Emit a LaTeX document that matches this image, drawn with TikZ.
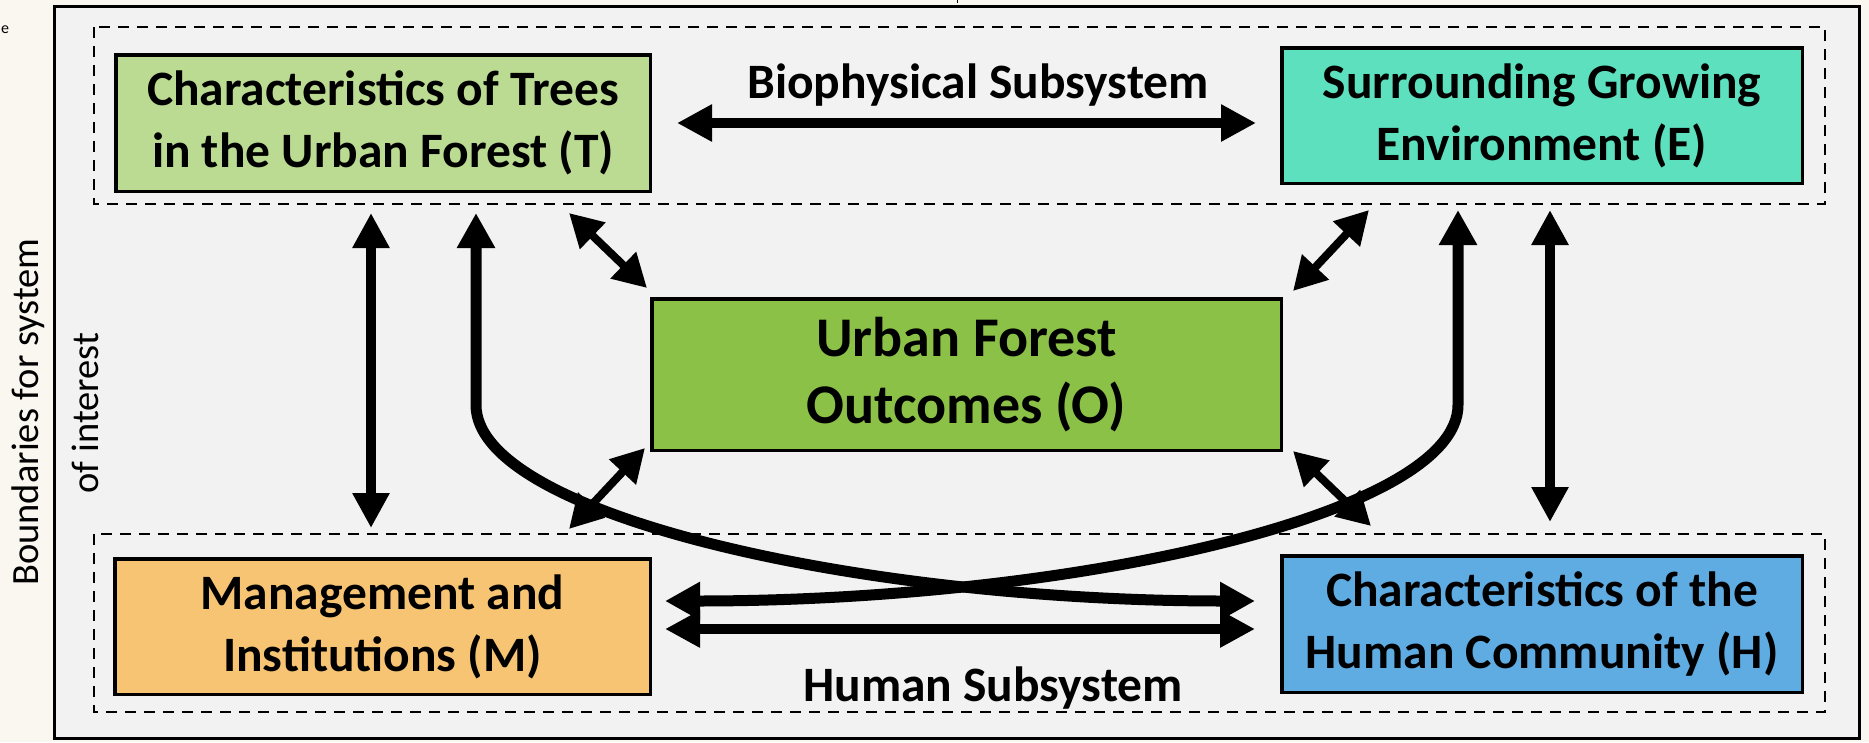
\documentclass[tikz,border=0pt]{standalone}
\usepackage{fontspec}
\setmainfont{Carlito}
\usetikzlibrary{arrows.meta}
\definecolor{paper}{RGB}{250,246,240}
\definecolor{panel}{RGB}{242,242,242}
\definecolor{treeg}{RGB}{187,219,146}
\definecolor{envg}{RGB}{92,224,190}
\definecolor{outg}{RGB}{140,193,71}
\definecolor{mgmt}{RGB}{247,196,116}
\definecolor{human}{RGB}{95,172,227}
\tikzset{
  box/.style={draw=black, line width=3.5pt, inner sep=0pt, align=center,
    font=\fontsize{49.5}{62}\selectfont\bfseries},
  subsys/.style={draw=black, line width=2.5pt, dash pattern=on 11pt off 8pt},
  sublabel/.style={anchor=base, inner sep=0pt, font=\fontsize{49.5}{60}\selectfont\bfseries},
  sidelabel/.style={anchor=base, rotate=90, inner sep=0pt, font=\fontsize{38.5}{46}\selectfont},
  bigarrow/.style={line width=10pt,
    {Triangle[length=35pt,width=35pt]}-{Triangle[length=35pt,width=35pt]}},
  curvearrow/.style={line width=11pt,
    {Triangle[length=35pt,width=36pt]}-{Triangle[length=35pt,width=36pt]}},
  diagarrow/.style={line width=8pt,
    {Triangle[length=33pt,width=35pt]}-{Triangle[length=33pt,width=35pt]}}
}
\begin{document}
\begin{tikzpicture}[x=1pt,y=-1pt]
\useasboundingbox (0,0) rectangle (1869,742);
\fill[paper] (0,0) rectangle (1869,742);

% clipped word fragment and small tick above the frame
\node[anchor=base west, inner sep=0pt, font=\fontsize{16}{18}\selectfont] (frag) at (1,33) {e};
\draw[line width=1pt] (957,0) -- (957,3);

% system boundary
\draw[line width=3pt, fill=panel] (54.5,6.5) rectangle (1859.5,738.5);
\node[sidelabel] (bnd1) at (38,412) {Boundaries for system};
\node[sidelabel] (bnd2) at (98,413) {of interest};

% subsystem boundaries
\draw[subsys] (94,27) rectangle (1825,204);
\draw[subsys] (94,534) rectangle (1825,712);
\node[sublabel] (bio) at (978,98) {Biophysical Subsystem};
\node[sublabel] (hum) at (993,701) {Human Subsystem};

% components
\node[box, fill=treeg, minimum width=534.5pt, minimum height=136.5pt] (T) at (383,123)
  {Characteristics of Trees\\in the Urban Forest (T)};
\node[box, fill=envg, minimum width=520.5pt, minimum height=135.5pt] (E) at (1542,115.5)
  {Surrounding Growing\\Environment (E)};
\node[box, fill=outg, minimum width=629.5pt, minimum height=151.5pt,
  font=\fontsize{56}{67}\selectfont\bfseries] (O) at (966.5,374.5)
  {Urban Forest\\Outcomes (O)};
\node[box, fill=mgmt, minimum width=535.5pt, minimum height=135.5pt] (M) at (382.5,626.5)
  {Management and\\Institutions (M)};
\node[box, fill=human, minimum width=520.5pt, minimum height=136.5pt] (H) at (1542,624)
  {Characteristics of the\\Human Community (H)};

% straight interactions
\draw[bigarrow] ([xshift=25pt, yshift=0pt]T.east) -- ([xshift=-24pt]T.east -| E.west);
\draw[bigarrow] ([xshift=-12pt, yshift=-20pt]T.south) -- ([xshift=-11.5pt, yshift=29pt]M.north);
\draw[bigarrow] ([xshift=8pt, yshift=-25pt]E.south) -- ([xshift=8pt, yshift=32pt]H.north);
\draw[bigarrow] ([xshift=13pt, yshift=-2.5pt]M.east) -- ([xshift=-25pt, yshift=-5pt]H.west);

% links with the outcomes
\draw[diagarrow] ([xshift=186pt, yshift=-20pt]T.south) -- ([xshift=-3pt, yshift=9pt]O.north west);
\draw[diagarrow] ([xshift=-173pt, yshift=-25pt]E.south) -- ([xshift=10pt, yshift=6pt]O.north east);
\draw[diagarrow] ([xshift=186.5pt, yshift=28pt]M.north) -- ([xshift=-5pt, yshift=4pt]O.south west);
\draw[diagarrow] ([xshift=-171pt, yshift=28pt]H.north) -- ([xshift=10pt, yshift=1pt]O.south east);

% crossing links between the subsystems
\draw[curvearrow] ([xshift=93pt, yshift=-20pt]T.south) -- (476,405)
  .. controls (476,515) and (860,601) .. ([xshift=-25pt, yshift=23pt]H.west);
\draw[curvearrow] ([xshift=-84pt, yshift=-25pt]E.south) -- (1458,405)
  .. controls (1458,515) and (1070,601) .. ([xshift=13pt, yshift=25.5pt]M.east);
\end{tikzpicture}
\end{document}
